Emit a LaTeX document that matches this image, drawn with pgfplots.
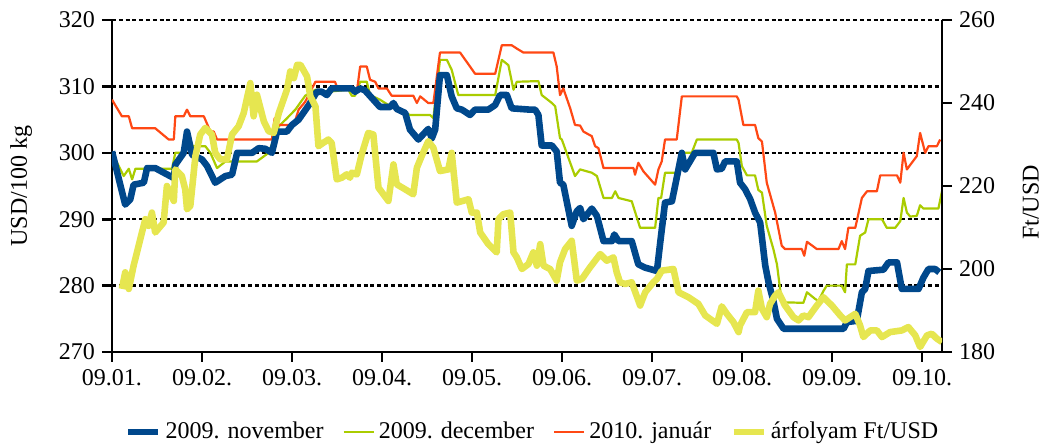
\documentclass[border=0pt]{standalone}
\usepackage{fontspec}
\setmainfont{Liberation Serif}
\usepackage{pgfplots}
\pgfplotsset{compat=1.18}
\definecolor{cblue}{RGB}{0,72,140}
\definecolor{cgreen}{RGB}{170,204,0}
\definecolor{cred}{RGB}{255,72,20}
\definecolor{cyellow}{RGB}{230,230,80}
\newcommand{\fs}{\fontsize{12pt}{14pt}\selectfont}
\pgfplotsset{
  common/.style={
    width=415pt,height=166pt,scale only axis,
    xmin=0,xmax=276.6,
    tick align=outside, major tick length=5pt,
    tick style={line width=1.3pt,black},
    x axis line style={-,line width=1.3pt},
    y axis line style={-,line width=1.3pt},
    tick label style={font=\fs},
    label style={font=\fs},
    /pgf/number format/assume math mode=true,
    legend image code/.code={\draw[#1] (0pt,0pt) -- (15pt,0pt);},
  }
}
\begin{document}
\begin{tikzpicture}
\useasboundingbox (-56pt,-46.5pt) rectangle (464.5pt,176pt);
\begin{axis}[common,
  ymin=270,ymax=320,
  axis x line*=bottom, axis y line*=left,
  xtick={0,30,60,90,120,150,180,210,240,270},
  xticklabels={09.01.,09.02.,09.03.,09.04.,09.05.,09.06.,09.07.,09.08.,09.09.,09.10.},
  ytick={270,280,290,300,310,320},
  ymajorgrids, grid style={black,line width=1.2pt,dash pattern=on 2pt off 1.4pt},
  ylabel={USD/100 kg},
  ylabel style={at={(axis description cs:-0.1096,0.5)},anchor=center},
]
\addplot[cgreen,line width=1.1pt,line join=round] coordinates {(0,300.0)(2.8,297.5)(3.9,296.5)(5.6,297.6)(6.7,296.0)(7.8,297.6)(20.0,297.6)(21.1,300.0)(23.9,300.0)(25.3,302.7)(26.9,301.0)(31.1,301.0)(32.8,300.0)(35.0,297.7)(37.8,298.7)(48.3,298.7)(52.2,300.0)(53.9,302.0)(55.6,304.0)(58.3,305.2)(61.1,306.5)(64.4,308.6)(67.8,309.5)(72.1,309.2)(78.8,309.5)(79.9,308.6)(81.0,308.6)(82.7,310.7)(84.9,310.7)(86.0,308.7)(89.3,308.0)(92.1,307.2)(95.4,306.5)(99.3,305.7)(106.0,305.7)(107.1,305.2)(109.3,314.0)(111.6,314.0)(113.2,312.5)(115.4,308.7)(127.7,308.7)(129.9,314.0)(132.1,313.2)(133.8,309.5)(134.9,310.7)(142.1,310.8)(143.2,308.7)(146.6,307.5)(147.7,307.0)(149.3,302.2)(149.9,302.0)(154.3,296.5)(156.0,297.5)(159.9,297.0)(161.6,296.5)(163.8,293.2)(166.6,293.2)(167.7,294.2)(168.8,293.2)(173.2,292.7)(176.0,288.7)(181.0,288.7)(182.1,293.2)(183.0,293.2)(184.3,297.0)(188.2,297.0)(189.3,300.0)(193.2,300.0)(194.9,302.0)(208.2,302.0)(208.8,301.5)(209.9,298.0)(211.6,296.6)(214.3,296.6)(215.4,294.4)(216.6,294.0)(218.2,289.0)(220.4,285.5)(221.6,283.2)(223.2,277.5)(230.4,277.4)(231.6,279.0)(234.3,278.0)(235.4,277.7)(237.1,279.2)(238.2,280.0)(243.2,280.0)(244.3,279.0)(244.9,283.2)(247.7,283.2)(249.3,287.5)(251.0,288.0)(252.1,290.0)(256.6,290.0)(258.2,288.7)(261.0,288.7)(262.7,289.7)(263.8,293.2)(264.9,291.0)(266.0,290.4)(268.2,290.5)(269.3,292.1)(270.4,291.6)(275.4,291.6)(276.6,294.2)};
\addplot[cred,line width=1.1pt,line join=round] coordinates {(0,308.0)(3.3,305.5)(5.6,305.5)(6.7,303.7)(14.4,303.7)(18.9,302.0)(20.6,302.0)(21.1,305.5)(23.9,305.5)(25.0,306.5)(26.1,305.5)(30.6,305.5)(32.8,303.2)(33.9,303.2)(35.0,302.0)(53.3,302.0)(54.2,305.2)(55.6,304.2)(60.6,304.2)(62.2,306.5)(64.4,307.7)(67.8,310.7)(74.3,310.7)(74.9,310.0)(79.9,310.0)(81.6,309.2)(82.7,313.0)(84.9,313.0)(86.0,311.0)(87.7,310.7)(88.8,309.7)(91.6,309.7)(93.2,308.6)(100.4,308.6)(101.6,307.5)(102.7,308.5)(105.4,307.5)(107.1,307.5)(109.3,315.1)(116.0,315.1)(119.3,313.0)(121.0,311.9)(127.7,311.9)(129.9,316.2)(133.2,316.2)(134.9,315.7)(137.1,315.1)(147.1,315.1)(148.2,313.0)(149.3,308.7)(150.4,309.7)(152.7,306.7)(154.3,304.2)(156.0,304.1)(157.1,303.2)(159.9,302.5)(161.0,301.0)(162.1,300.7)(163.8,297.7)(173.8,297.7)(174.3,296.7)(175.4,298.5)(177.1,297.2)(181.0,295.2)(182.1,297.5)(183.2,298.7)(184.3,302.0)(188.2,302.0)(189.9,308.5)(208.2,308.5)(208.8,308.0)(210.4,304.2)(214.3,304.2)(215.4,302.2)(216.6,301.7)(218.2,295.5)(221.0,291.0)(223.2,286.0)(224.3,285.5)(229.9,285.5)(230.7,284.5)(231.6,286.6)(234.9,285.5)(242.1,285.5)(243.2,286.7)(244.3,285.5)(245.4,288.7)(247.7,288.7)(249.9,293.2)(251.6,294.2)(254.9,294.2)(256.0,296.6)(261.6,296.6)(262.7,295.5)(263.8,300.0)(264.9,297.5)(268.2,299.5)(269.3,303.0)(271.0,300.0)(272.1,301.0)(274.9,301.0)(276.0,302.0)};
\addplot[cblue,line width=3.3pt,line join=round] coordinates {(0,300.2)(4.4,292.2)(6.1,293.0)(7.2,295.2)(10.6,295.5)(11.7,297.7)(14.4,297.7)(20.6,296.2)(21.1,298.2)(23.9,300.0)(25.0,303.2)(26.7,299.7)(30.0,299.0)(31.7,298.0)(34.4,295.5)(37.8,296.5)(40.0,296.7)(41.7,300.0)(46.7,300.0)(48.9,300.7)(51.1,300.6)(53.3,300.0)(55.0,303.2)(58.3,303.2)(60.0,304.2)(62.2,305.0)(65.6,307.2)(68.3,309.2)(69.9,309.2)(71.6,308.7)(73.2,309.7)(79.9,309.7)(81.0,309.2)(82.7,309.7)(84.3,309.4)(87.1,308.0)(89.3,306.9)(92.7,306.9)(93.8,307.5)(94.9,306.6)(97.7,306.0)(99.3,303.5)(102.1,302.0)(105.4,303.6)(106.6,302.2)(107.7,303.5)(109.3,311.7)(111.6,311.7)(113.2,308.5)(114.9,306.7)(116.6,306.5)(119.3,305.7)(121.0,306.5)(125.4,306.5)(127.7,307.2)(129.3,308.7)(131.6,308.7)(133.2,306.7)(139.3,306.5)(141.0,306.5)(142.1,305.7)(143.2,301.1)(146.6,301.1)(148.2,300.2)(149.3,295.5)(150.4,295.2)(153.2,289.0)(154.9,291.2)(156.0,291.7)(157.1,290.0)(159.9,291.6)(161.6,290.5)(163.8,286.7)(166.6,286.7)(167.4,287.7)(168.8,286.7)(173.2,286.7)(175.4,283.2)(177.7,282.7)(181.6,282.2)(182.7,286.5)(184.3,292.5)(186.6,292.7)(189.9,300.0)(191.0,297.5)(194.3,300.0)(200.4,300.0)(201.6,297.5)(203.2,297.6)(204.3,298.7)(207.7,298.7)(208.2,298.7)(209.3,295.5)(211.0,294.5)(212.7,293.0)(214.3,291.0)(216.0,289.5)(217.7,283.0)(218.8,280.5)(220.4,277.7)(221.6,275.0)(223.8,273.5)(243.8,273.5)(244.9,274.5)(248.2,274.7)(249.9,279.0)(251.0,279.5)(252.1,282.2)(257.1,282.4)(258.8,283.5)(261.6,283.5)(263.2,279.5)(268.8,279.5)(270.4,281.2)(272.1,282.5)(274.3,282.5)(275.7,282.0)};
\end{axis}
\begin{axis}[common,
  ymin=180,ymax=260,
  axis y line*=right, axis x line=none,
  ytick={180,200,220,240,260},
  ylabel={Ft/USD},
  ylabel style={at={(axis description cs:1.107,0.45)},anchor=center},
  legend columns=4,
  legend style={at={(axis description cs:0.508,-0.241)},anchor=center,draw=none,fill=none,font=\fs,
    /tikz/every even column/.append style={column sep=7.5pt}},
]
\addlegendimage{cblue,line width=3.3pt}
\addlegendentry{2009. november}
\addlegendimage{cgreen,line width=1.1pt}
\addlegendentry{2009. december}
\addlegendimage{cred,line width=1.1pt}
\addlegendentry{2010. január}
\addplot[cyellow,line width=3.3pt,line join=round] coordinates {(3.3,195.2)(4.4,199.2)(5.6,195.2)(7.2,200.8)(11.1,212.0)(12.2,210.4)(13.3,213.6)(14.4,208.8)(17.2,211.2)(18.3,220.0)(19.4,218.4)(20.6,216.4)(21.1,224.0)(23.3,222.4)(24.4,219.2)(25.0,214.4)(26.1,215.2)(27.8,227.2)(29.4,232.4)(31.1,234.0)(33.3,232.4)(34.4,228.0)(36.1,226.4)(38.3,226.4)(40.0,232.4)(42.2,234.4)(43.9,237.6)(46.1,244.8)(47.2,236.8)(48.3,242.0)(50.6,235.6)(52.2,233.2)(53.9,232.8)(55.6,237.6)(58.3,243.2)(59.4,247.6)(60.6,246.0)(61.7,249.2)(62.8,249.2)(65.0,246.4)(66.1,241.6)(67.8,239.2)(68.8,229.6)(70.4,230.4)(72.1,231.2)(73.2,230.4)(74.9,221.6)(76.6,222.0)(78.2,222.8)(79.3,222.0)(79.9,223.2)(81.6,222.8)(83.2,227.6)(85.4,232.8)(87.1,232.4)(88.8,219.6)(92.1,216.4)(93.8,225.2)(94.9,220.4)(97.7,219.2)(100.4,218.0)(101.6,224.4)(103.2,227.2)(105.4,230.8)(107.1,229.2)(109.3,223.6)(112.1,224.0)(113.2,228.0)(114.9,216.0)(118.8,216.8)(119.9,213.6)(121.6,213.6)(122.7,208.8)(125.4,206.0)(128.2,204.0)(128.8,212.0)(130.4,213.2)(132.7,213.6)(133.8,204.0)(134.9,202.8)(136.6,200.0)(138.8,201.2)(140.4,204.0)(141.6,200.8)(142.7,206.0)(143.8,200.8)(146.0,200.0)(148.2,197.2)(149.3,201.6)(151.0,204.8)(153.2,206.8)(154.9,197.2)(156.6,197.6)(159.3,200.4)(162.7,203.6)(164.9,202.0)(167.1,202.8)(168.2,199.2)(169.3,196.8)(171.0,196.4)(173.2,196.8)(176.0,191.2)(177.7,194.4)(180.4,196.8)(181.6,197.6)(183.2,199.6)(187.1,200.0)(188.8,194.4)(192.1,193.2)(195.4,191.6)(197.7,188.8)(201.6,186.8)(203.2,191.0)(204.9,189.2)(207.1,187.2)(208.8,184.8)(209.3,186.4)(211.6,189.6)(214.3,189.6)(215.4,194.8)(216.6,190.4)(218.2,188.4)(219.3,191.6)(221.0,193.6)(222.1,194.4)(224.3,191.2)(227.1,188.4)(228.8,187.6)(230.4,188.8)(232.1,188.4)(234.9,191.2)(237.1,193.2)(239.9,191.2)(242.7,188.8)(244.3,187.6)(246.0,188.4)(247.7,189.2)(249.3,186.4)(250.4,183.6)(252.7,185.2)(254.9,185.2)(256.6,183.6)(259.3,184.8)(263.2,185.2)(265.4,186.0)(267.7,184.0)(269.3,181.2)(271.6,184.0)(273.2,184.4)(274.9,183.2)(276.6,182.4)};
\addlegendentry{árfolyam Ft/USD}
\end{axis}
\end{tikzpicture}
\end{document}
